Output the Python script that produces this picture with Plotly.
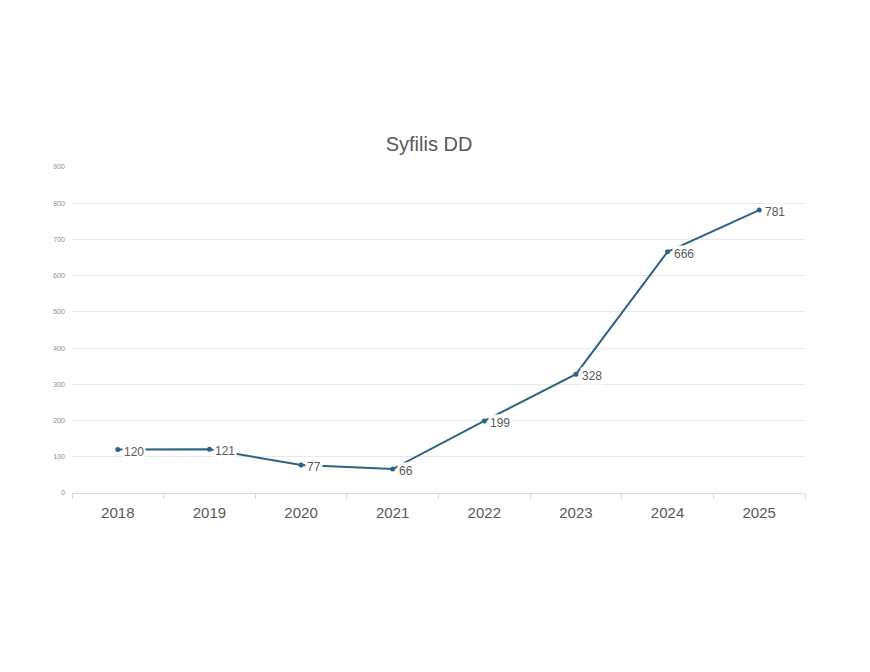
import plotly.graph_objects as go

years = ["2018", "2019", "2020", "2021", "2022", "2023", "2024", "2025"]
cases = [120, 121, 77, 66, 199, 328, 666, 781]
y_ticks = [0, 100, 200, 300, 400, 500, 600, 700, 800, 900]

line_color = "#2E6480"
text_color = "#595959"

fig = go.Figure()
fig.add_trace(go.Scatter(
    x=years, y=cases, mode="lines+markers",
    line=dict(color=line_color, width=2),
    marker=dict(color=line_color, size=5),
    showlegend=False, hoverinfo="x+y",
))

for i, y in enumerate(cases):
    fig.add_annotation(
        x=i, y=y, text=str(y), showarrow=False,
        xanchor="left", yanchor="middle", xshift=4, yshift=-2,
        font=dict(family="Liberation Sans, Arial, sans-serif", size=12, color=text_color),
        bgcolor="white", borderpad=1,
    )

fig.update_layout(
    width=870, height=672,
    paper_bgcolor="white", plot_bgcolor="white",
    margin=dict(l=72, r=65, t=167, b=179),
    title=dict(
        text="Syfilis DD", x=429 / 870, xanchor="center", xref="container",
        y=1 - 144 / 672, yanchor="middle",
        font=dict(family="Liberation Sans, Arial, sans-serif", size=20, color=text_color),
    ),
    xaxis=dict(
        type="category", categoryorder="array", categoryarray=years,
        range=[-0.5, len(years) - 0.5], autorange=False,
        tickson="boundaries", ticks="outside", ticklen=5,
        tickcolor="#D9D9D9", showline=True, linecolor="#D9D9D9", linewidth=1,
        showgrid=False, zeroline=False, tickangle=0, ticklabelstandoff=6,
        tickfont=dict(family="Liberation Sans, Arial, sans-serif", size=15, color=text_color),
    ),
    yaxis=dict(
        range=[0, 900], autorange=False, tickvals=y_ticks, showgrid=True, gridcolor="#E8E8E8",
        zeroline=False, showline=False, ticks="",
        tickfont=dict(family="Liberation Sans, Arial, sans-serif", size=7, color="#8C8C8C"),
        ticklabelstandoff=6,
    ),
)

fig.write_html("out.html")
